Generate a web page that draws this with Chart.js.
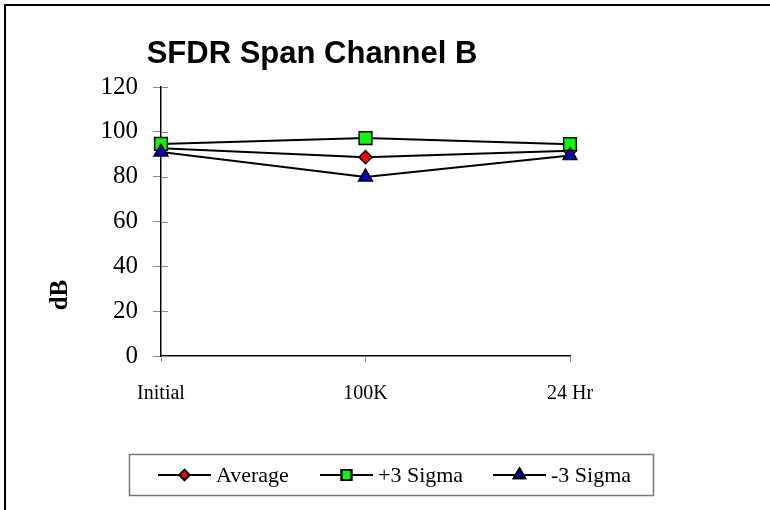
<!DOCTYPE html>
<html>
<head>
<meta charset="utf-8">
<script src="https://cdn.jsdelivr.net/npm/chart.js@4/dist/chart.umd.min.js"></script>
<style>
  html, body { margin: 0; padding: 0; background: #fff; }
  #wrap { width: 770px; height: 510px; }
</style>
</head>
<body>
<div id="wrap"><canvas id="graph" width="770" height="510"></canvas></div>
<script>
const labels = ['Initial', '100K', '24 Hr'];
const average = [92.7, 88.7, 91.6];
const plus3 = [94.6, 97.2, 94.5];
const minus3 = [91.0, 79.8, 89.4];
const yTicks = [0, 20, 40, 60, 80, 100, 120];

const serif = '"Liberation Serif", "Times New Roman", serif';

// frame, title, axis title, cross ticks and the boxed legend
const extras = {
  id: 'extras',
  beforeDraw(chart) {
    const c = chart.ctx;
    c.save();
    c.fillStyle = '#fff';
    c.fillRect(0, 0, chart.width, chart.height);
    c.strokeStyle = '#000';
    c.lineWidth = 2;
    c.strokeRect(5, 5, 780, 520);
    c.restore();
  },
  afterDraw(chart) {
    const c = chart.ctx;
    const y = chart.scales.y, area = chart.chartArea;
    c.save();
    // y ticks go through the axis
    c.strokeStyle = '#888';
    c.lineWidth = 1;
    yTicks.forEach(v => {
      const py = Math.round(y.getPixelForValue(v)) + 0.5;
      c.beginPath(); c.moveTo(area.left, py); c.lineTo(area.left + 7, py); c.stroke();
    });
    c.fillStyle = '#000';
    c.font = 'bold 31px "Liberation Sans", Arial, sans-serif';
    c.textAlign = 'center'; c.textBaseline = 'middle';
    c.fillText('SFDR Span Channel B', 312, 54);
    c.translate(61, 295);
    c.rotate(-Math.PI / 2);
    c.font = 'bold 25px ' + serif;
    c.fillText('dB', 0, 0);
    c.restore();

    // legend
    c.save();
    c.strokeStyle = '#777';
    c.lineWidth = 1.5;
    c.strokeRect(129.5, 454.5, 524, 41);
    const starts = [158, 320, 493];
    const ly = 475;
    chart.data.datasets.forEach((ds, i) => {
      const x0 = starts[i];
      c.strokeStyle = '#000';
      c.lineWidth = 2;
      c.beginPath(); c.moveTo(x0, ly); c.lineTo(x0 + 53, ly); c.stroke();
      Chart.helpers.drawPoint(c, {
        pointStyle: ds.pointStyle, radius: ds.legendRadius, borderWidth: 1.5
      }, x0 + 26.5, ly);
      c.fillStyle = ds.pointBackgroundColor;
      c.strokeStyle = '#000';
      c.fill(); c.stroke();
      c.fillStyle = '#000';
      c.font = '22px ' + serif;
      c.textAlign = 'left'; c.textBaseline = 'middle';
      c.fillText(ds.label, x0 + 58, ly + 1);
    });
    c.restore();
  }
};

function series(label, data, style, color, r, lr, order) {
  return {
    label, data, order,
    borderColor: '#000', borderWidth: 2,
    pointStyle: style, pointRadius: r, pointHoverRadius: r,
    pointBackgroundColor: color, pointBorderColor: '#000', pointBorderWidth: 1.5,
    legendRadius: lr, tension: 0, fill: false
  };
}

new Chart(document.getElementById('graph').getContext('2d'), {
  type: 'line',
  data: {
    labels: labels,
    datasets: [
      series('Average', average, 'rectRot', '#ff0000', 6.5, 5, 3),
      series('+3 Sigma', plus3, 'rect', '#00ff00', 9, 7, 2),
      series('-3 Sigma', minus3, 'triangle', '#0000cc', 8, 6.5, 1)
    ]
  },
  options: {
    responsive: false,
    animation: false,
    layout: { padding: { top: 87, right: 200, left: 0, bottom: 0 } },
    plugins: { legend: { display: false }, title: { display: false }, tooltip: { enabled: false } },
    scales: {
      x: {
        offset: false,
        grid: { drawOnChartArea: false, tickLength: 6, color: '#888', tickWidth: 1 },
        border: { color: '#000', width: 1.5 },
        ticks: { color: '#000', font: { family: serif, size: 20 }, padding: 20, maxRotation: 0, autoSkip: false },
        afterFit(s) { s.height = 154; }
      },
      y: {
        min: 0, max: 120,
        afterBuildTicks(s) { s.ticks = yTicks.map(v => ({ value: v })); },
        grid: { drawOnChartArea: false, tickLength: 8, color: '#888', tickWidth: 1 },
        border: { color: '#000', width: 1.5 },
        ticks: { color: '#000', font: { family: serif, size: 25 }, padding: 15 },
        afterFit(s) { s.width = 161; }
      }
    }
  },
  plugins: [extras]
});
</script>
</body>
</html>
